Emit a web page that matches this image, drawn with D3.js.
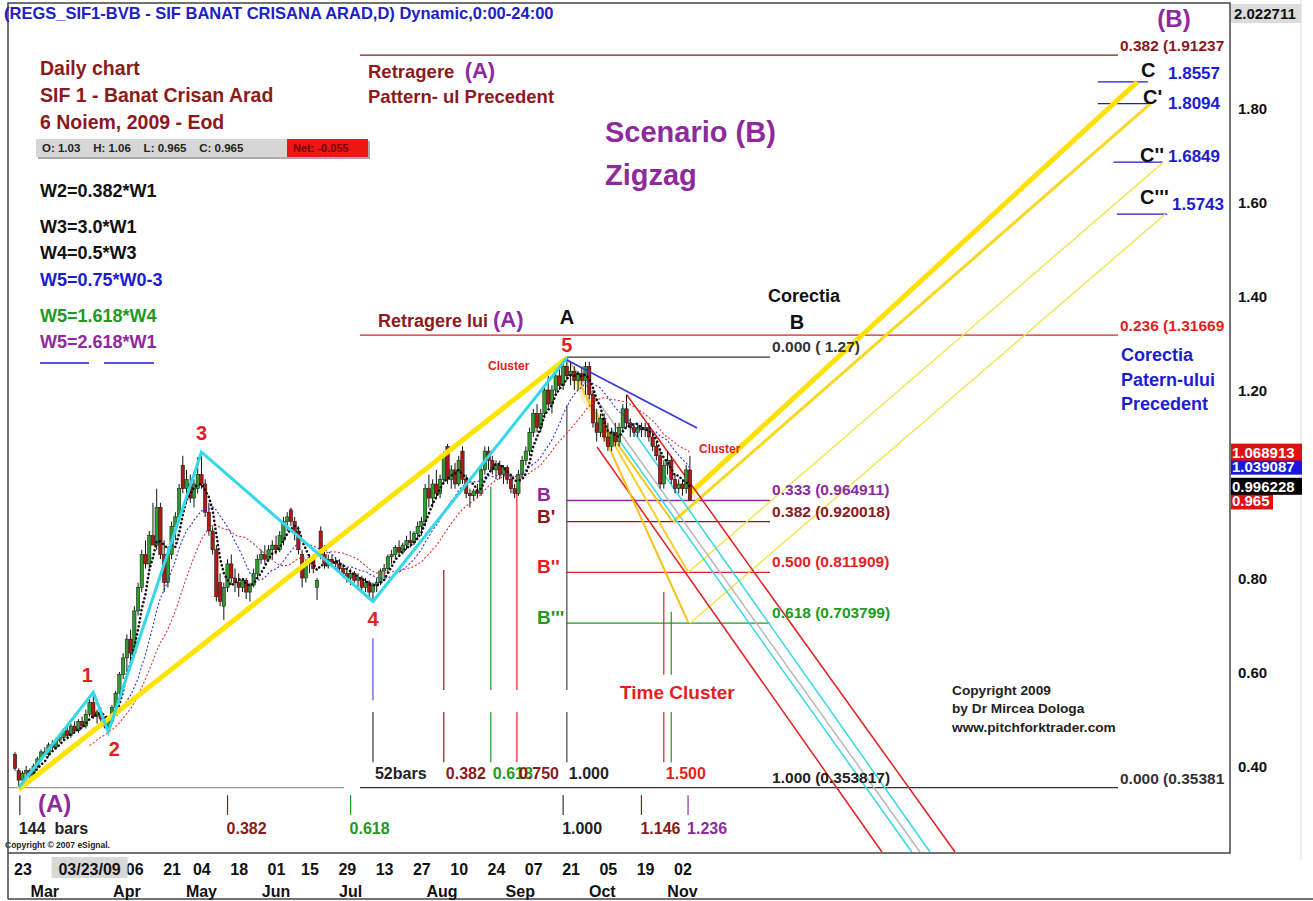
<!DOCTYPE html>
<html><head><meta charset="utf-8">
<script src="https://cdn.jsdelivr.net/npm/d3@7"></script>
<style>
body{margin:0;background:#fff}
svg{display:block}
text{font-family:"Liberation Sans",Arial,Helvetica,sans-serif;font-weight:bold;white-space:pre}
</style>
</head><body>
<svg id="c" width="1313" height="901"></svg>
<script>
// ---------------- DATA ----------------
const barStartDate = "2009-02-23";
const holidays = ["2009-04-20","2009-05-01","2009-06-08"];
const opens = [.425,.39,.37,.385,.39,.38,.40,.415,.43,.425,
.445,.44,.455,.46,.475,.465,.485,.475,.495,.485,
.51,.535,.505,.515,.50,.485,.495,.525,.555,.595,
.63,.67,.64,.73,.78,.85,.83,.89,.87,.95,
.85,.79,.85,.91,.93,1.04,.99,1.00,.97,.99,
1.02,1.00,.94,.90,.86,.79,.74,.78,.83,.80,
.79,.78,.795,.77,.785,.81,.84,.85,.84,.86,
.87,.86,.88,.92,.945,.92,.90,.85,.80,.83,
.84,.78,.90,.85,.83,.84,.835,.83,.82,.81,
.80,.81,.795,.80,.78,.79,.77,.785,.79,.815,
.82,.845,.85,.865,.855,.87,.88,.875,.895,.91,
.92,.99,.97,1.00,.98,1.01,1.08,1.01,1.03,1.00,
1.07,1.01,.98,.975,.985,.98,1.03,1.07,1.05,1.03,
1.04,1.02,1.035,1.01,.99,.98,1.02,1.05,1.07,1.11,
1.15,1.12,1.15,1.20,1.17,1.20,1.23,1.21,1.25,1.23,
1.24,1.22,1.235,1.22,1.25,1.19,1.13,1.11,1.14,1.10,
1.08,1.11,1.09,1.12,1.16,1.13,1.12,1.11,1.12,1.115,
1.12,1.10,1.08,1.06,1.00,1.04,1.05,1.01,.99,1.00,
.99,1.03];
const highs = [.43,.395,.39,.40,.395,.405,.42,.435,.44,.45,
.455,.46,.47,.48,.485,.49,.495,.50,.505,.52,
.545,.557,.52,.525,.505,.50,.53,.56,.60,.64,
.68,.69,.74,.79,.86,.88,.90,.96,.99,.96,
.88,.86,.92,.94,1.00,1.06,1.03,1.02,1.01,1.057,
1.068,1.01,.96,.91,.87,.81,.79,.84,.85,.82,
.81,.80,.80,.79,.82,.85,.86,.87,.87,.88,
.89,.90,.93,.94,.95,.93,.91,.86,.84,.85,
.85,.80,.91,.87,.85,.85,.845,.84,.83,.82,
.82,.815,.81,.805,.80,.795,.79,.80,.82,.83,
.85,.86,.87,.88,.875,.89,.90,.90,.92,.93,
1.00,1.02,1.01,1.03,1.02,1.07,1.085,1.04,1.045,1.06,
1.08,1.02,.99,.99,1.00,1.04,1.08,1.08,1.06,1.05,
1.05,1.04,1.04,1.02,1.00,1.03,1.06,1.08,1.12,1.16,
1.17,1.16,1.21,1.23,1.21,1.24,1.25,1.26,1.268,1.26,
1.25,1.24,1.25,1.26,1.26,1.20,1.16,1.15,1.15,1.13,
1.12,1.13,1.13,1.17,1.19,1.14,1.13,1.13,1.13,1.13,
1.13,1.11,1.09,1.07,1.05,1.07,1.06,1.02,1.01,1.01,
1.04,1.06];
const lows = [.39,.354,.365,.375,.37,.375,.395,.41,.42,.42,
.43,.435,.45,.455,.46,.46,.47,.47,.48,.48,
.505,.50,.49,.495,.48,.472,.49,.52,.55,.585,
.60,.62,.635,.72,.77,.82,.82,.87,.86,.84,
.77,.78,.84,.88,.92,.98,.96,.96,.95,.98,
.99,.93,.89,.85,.75,.74,.711,.77,.79,.77,
.76,.77,.755,.75,.78,.80,.83,.83,.835,.84,
.85,.855,.87,.90,.91,.88,.85,.78,.79,.81,
.81,.753,.84,.82,.82,.825,.82,.81,.80,.79,
.785,.79,.78,.77,.77,.76,.75,.77,.785,.80,
.81,.83,.84,.85,.85,.86,.865,.87,.88,.89,
.91,.95,.95,.97,.97,1.00,1.00,.99,.99,.995,
1.00,.97,.95,.965,.97,.975,1.02,1.03,1.02,1.01,
1.01,1.00,1.00,.98,.97,.975,1.01,1.04,1.06,1.10,
1.11,1.11,1.14,1.16,1.15,1.19,1.20,1.20,1.22,1.21,
1.20,1.20,1.21,1.19,1.18,1.12,1.09,1.10,1.09,1.07,
1.07,1.08,1.08,1.11,1.12,1.10,1.10,1.10,1.10,1.10,
1.09,1.07,1.05,.99,.99,1.02,1.00,.98,.98,.975,
.98,.965];
const closes = [.395,.37,.385,.39,.38,.40,.415,.43,.425,.445,
.44,.455,.46,.475,.465,.485,.475,.495,.485,.51,
.535,.505,.515,.50,.485,.495,.525,.555,.595,.63,
.67,.64,.73,.78,.85,.83,.89,.87,.95,.85,
.79,.85,.91,.93,.99,.99,1.01,.97,1.00,1.02,
1.00,.94,.90,.86,.76,.75,.78,.83,.80,.79,
.78,.795,.77,.785,.81,.84,.85,.84,.86,.87,
.86,.89,.92,.93,.92,.895,.86,.80,.83,.84,
.82,.795,.85,.83,.84,.835,.83,.82,.81,.80,
.81,.795,.80,.78,.79,.77,.785,.79,.815,.82,
.845,.85,.865,.855,.87,.88,.875,.895,.91,.92,
.99,.97,1.00,.98,1.01,1.06,1.01,1.03,1.00,1.05,
1.01,.98,.975,.985,.98,1.03,1.07,1.05,1.03,1.04,
1.02,1.035,1.01,.99,.98,1.02,1.05,1.07,1.11,1.15,
1.12,1.15,1.20,1.17,1.20,1.23,1.21,1.25,1.23,1.24,
1.22,1.235,1.22,1.25,1.19,1.13,1.11,1.14,1.10,1.08,
1.11,1.09,1.12,1.16,1.13,1.12,1.11,1.12,1.115,1.12,
1.10,1.08,1.06,1.00,1.04,1.05,1.01,.99,1.00,.99,
1.03,.965];

const maPeriods = [5, 13, 21];            // black, blue, red moving averages
const dateTicks = ["2009-02-23","2009-04-06","2009-04-21","2009-05-04","2009-05-18","2009-06-01","2009-06-15","2009-06-29","2009-07-13","2009-07-27","2009-08-10","2009-08-24","2009-09-07","2009-09-21","2009-10-05","2009-10-19","2009-11-02"];
const cursorDate = "2009-03-23";
const cursorLabel = "03/23/09";
const monthNames = ["Mar","Apr","May","Jun","Jul","Aug","Sep","Oct","Nov"];
const monthBars = [8,30,50,70,90,114.5,135.5,157.5,179];
const priceTicks = [0.40,0.60,0.80,1.20,1.40,1.60,1.80];   // 1.00 is hidden under the price flags
const axisTop = 2.022711;
const flagValues = [1.039087, 1.068913, 0.965, 0.996228];
const ohlcText = "O: 1.03    H: 1.06    L: 0.965    C: 0.965";
const netText = "Net: -0.055";

// wave pivots (bar index, price)
const waveNames = ["(A)","1","2","3","4","5"];
const waveBars = [1, 21, 25, 50, 96, 148];
const wavePrices = [0.354, 0.557, 0.472, 1.068, 0.75, 1.268];

// retracement levels
const fibALabels = ["0.382 (1.91237","0.236 (1.31669","0.000 (0.35381"];
const fibAPrices = [1.91237, 1.31669, 0.353817];
const fibALine = [92.5, 295.8];
const fibBLabels = ["0.000 ( 1.27)","0.333 (0.964911)","0.382 (0.920018)","0.500 (0.811909)","0.618 (0.703799)","1.000 (0.353817)"];
const fibBPrices = [1.27, 0.964911, 0.920018, 0.811909, 0.703799, 0.353817];
const fibBLine = [148, 202.5];
const bNames = ["B","B'","B''","B'''"];

// C targets
const cNames = ["C","C'","C''","C'''"];
const cValues = ["1.8557","1.8094","1.6849","1.5743"];
const cPrices = [1.8557, 1.8094, 1.6849, 1.5743];
const cLineFrom = [290.4, 290.4, 294.6, 295.5];
const cLineTo = [303.8, 303.8, 307.8, 309.0];

// upward parallel lines B -> C
const upFromBar = [181, 176.5, 180.5, 181];
const upFromPrice = [0.98, 0.920018, 0.811909, 0.703799];
const upToBar = [301, 304.5, 308, 308.5];
const upToPrice = [1.8557, 1.8094, 1.6849, 1.5743];

// downward pitchfork lines (median, lower red, upper red, cyan, cyan)
const forkFromBar = [148, 156.1, 164.1, 160.1, 162.8];
const forkFromPrice = [1.268, 1.0787, 1.1894, 1.1149, 1.1468];
const forkToBar = [242.7, 232.5, 252.1, 240.5, 245.4];
const forkToPrice = [0.217, 0.217, 0.217, 0.217, 0.217];

// yellow fan from top 5 to B levels
const fanFromBar = [150.2, 151.5, 154.2];
const fanFromPrice = [1.238, 1.2106, 1.168];
const fanToBar = [180.5, 180.5, 176.2];
const fanToPrice = [0.7064, 0.8128, 0.9213];

// upper trend line
const trendBars = [148, 182.9];
const trendPrices = [1.2638, 1.119];

// time cycles
const cycle52Bars = [96, 115, 127.6, 134.6, 148, 174, 176];
const cycle52Labels = ["52bars","0.382","0.618","0.750","1.000","1.500",""];
const cycle52Tops = [0.672, 0.817, 0.994, 0.987, 1.168, 0.770, 0.728];
const cycle144Bars = [1.3, 57, 90, 147, 168, 180.5];
const cycle144Labels = ["144  bars","0.382","0.618","1.000","1.146","1.236"];

// ---------------- STYLE ----------------
const COL = {green:"#2f9a2f", red:"#b01818", dred:"#8b1a1a", rd:"#e41e1e", grn:"#1e9a1e",
  pur:"#8e2a9e", blue:"#1c1cd0", cyan:"#35d8e8", yel:"#ffe400", gray:"#b0b0b0"};
const svg = d3.select("#c");
const PL=8, PR=1230, PT=3, PB=853;
const x = d3.scaleLinear().domain([0,177]).range([15,675]);
const y = d3.scaleLinear().domain([0.4,1.8]).range([766,108]);

svg.append("defs").append("clipPath").attr("id","clip")
  .append("rect").attr("x",PL).attr("y",PT).attr("width",PR-PL).attr("height",PB-PT);

const gBack = svg.append("g").attr("clip-path","url(#clip)");
const gMain = svg.append("g").attr("clip-path","url(#clip)");
const gTop = svg.append("g");

const line = d3.line().x(d=>x(d[0])).y(d=>y(d[1]));
function seg(g, pts, color, w, extra){
  const p = g.append("path").attr("d", line(pts)).attr("fill","none")
    .attr("stroke",color).attr("stroke-width",w);
  if(extra) extra(p);
  return p;
}
function txt(g, px, py, s, size, color, anchor){
  return g.append("text").attr("x",px).attr("y",py).attr("font-size",size)
    .attr("fill",color).attr("text-anchor",anchor||"start").attr("xml:space","preserve").text(s);
}

// --------- horizontal levels ---------
const fibAColors=[COL.dred, COL.rd, "#333"];
fibAPrices.forEach((p,k)=>{
  seg(gBack, [[fibALine[0],p],[fibALine[1],p]], fibAColors[k], 1.3);
  txt(gTop, x(fibALine[1])+2, y(p)-4, fibALabels[k], 15.5, fibAColors[k]);
});
seg(gBack, [[-2,fibAPrices[2]],[88.2,fibAPrices[2]]], "#999", 1.3);
const fibBColors=["#333", COL.pur, COL.dred, COL.rd, COL.grn, "#222"];
fibBPrices.forEach((p,k)=>{
  if(k<5) seg(gBack, [[fibBLine[0],p],[fibBLine[1],p]], fibBColors[k], 1.3);
  txt(gTop, x(fibBLine[1])+2, y(p)-5, fibBLabels[k], 15.5, fibBColors[k]);
});
const bColors=[COL.pur, COL.dred, COL.rd, COL.grn];
bNames.forEach((n,k)=>{
  txt(gTop, 537, y(fibBPrices[k+1])+1, n, 19, bColors[k]);
});
cPrices.forEach((p,k)=>{
  seg(gBack, [[cLineFrom[k],p],[cLineTo[k],p]], COL.blue, 1.3);
});

// --------- time cycles ---------
const c52Colors=["#5050e0",COL.dred,COL.grn,COL.rd,"#444",COL.rd,COL.grn];
const c52LowColors=["#333",COL.dred,COL.grn,COL.rd,"#444",COL.rd,COL.grn];
const c52LabColors=["#222",COL.dred,COL.grn,COL.dred,"#222",COL.rd,COL.grn];
const upperBottom = [0.54,0.5617,0.5617,0.5617,0.5617,0.594,0.594];
cycle52Bars.forEach((b,k)=>{
  seg(gBack, [[b,cycle52Tops[k]],[b,upperBottom[k]]], c52Colors[k], 1.2);
  seg(gBack, [[b,0.515],[b,0.408]], c52LowColors[k], 1.2);
  if(cycle52Labels[k]) txt(gTop, x(b)+2, y(0.385)+6, cycle52Labels[k], 16, c52LabColors[k]);
});
const c144Colors=["#333",COL.dred,COL.grn,"#333",COL.dred,COL.pur];
cycle144Bars.forEach((b,k)=>{
  seg(gBack, [[b,0.338],[b,0.296]], c144Colors[k], 1.2);
  txt(gTop, x(b)-1, y(0.268)+6, cycle144Labels[k], 16, c144Colors[k]==="#333"?"#222":c144Colors[k]);
});

// --------- upward yellow lines ---------
const upW=[5,3,1.4,1.4], upC=["#ffe000","#f8d820","#f2e44a","#f2e44a"];
upFromBar.forEach((b,k)=>seg(gBack, [[b,upFromPrice[k]],[upToBar[k],upToPrice[k]]], upC[k], upW[k]));

// --------- downward pitchfork ---------
const forkC=["#b8b8b8", COL.rd, COL.rd, COL.cyan, COL.cyan];
forkFromBar.forEach((b,k)=>seg(gBack, [[b,forkFromPrice[k]],[forkToBar[k],forkToPrice[k]]], forkC[k], 1.5));
const fanC=["#f7c21a","#f7d030","#f5c518"];
fanFromBar.forEach((b,k)=>seg(gBack, [[b,fanFromPrice[k]],[fanToBar[k],fanToPrice[k]]], fanC[k], 2));
seg(gBack, [[waveBars[5],wavePrices[5]-0.01],[160,1.08]], "#f4d64a", 8, p=>p.attr("opacity",0.35));

// --------- candles ---------
const n = closes.length;
const cg = gMain.append("g");
for(let i=0;i<n;i++){
  const o=opens[i], c=closes[i];
  cg.append("line").attr("x1",x(i)).attr("x2",x(i)).attr("y1",y(highs[i])).attr("y2",y(lows[i]))
    .attr("stroke","#111").attr("stroke-width",1);
  const top=y(Math.max(o,c)), bot=y(Math.min(o,c));
  cg.append("rect").attr("x",x(i)-1.7).attr("width",3.4).attr("y",top).attr("height",Math.max(1,bot-top))
    .attr("fill", c>=o?COL.green:COL.red).attr("stroke","#111").attr("stroke-width",0.5);
}

// --------- moving averages ---------
function sma(p){ const out=[]; for(let i=p-1;i<n;i++){ out.push([i, d3.mean(closes.slice(i-p+1,i+1))]); } return out; }
seg(gMain, sma(maPeriods[2]), "#e03030", 1.1, p=>p.attr("stroke-dasharray","2,2"));
seg(gMain, sma(maPeriods[1]), "#3030e0", 1.1, p=>p.attr("stroke-dasharray","2,2"));
seg(gMain, sma(maPeriods[0]), "#111", 2.6, p=>p.attr("stroke-dasharray","0.1,4").attr("stroke-linecap","round"));

// --------- main trend lines ---------
seg(gMain, [[waveBars[0],wavePrices[0]-0.004],[waveBars[5],wavePrices[5]]], COL.yel, 5);
seg(gMain, waveBars.map((b,k)=>[b,wavePrices[k]]), COL.cyan, 3);
seg(gMain, [[trendBars[0],trendPrices[0]],[trendBars[1],trendPrices[1]]], "#3a3ad8", 1.8);

const waveOff=[0,-10,24,-12,24,-6];
waveNames.forEach((nm,k)=>{
  if(k===0) return;
  const dx = k===1?-6:k===2?6:0;
  txt(gTop, x(waveBars[k])+dx, y(wavePrices[k])+waveOff[k], nm, 20, COL.rd, "middle");
});
txt(gTop, 38, 812, "(A)", 24, COL.pur);

// --------- frame ---------
svg.append("rect").attr("x",PL).attr("y",PT).attr("width",PR-PL).attr("height",PB-PT)
  .attr("fill","none").attr("stroke","#444").attr("stroke-width",1.5);
svg.append("line").attr("x1",PL).attr("x2",PL).attr("y1",PB).attr("y2",899).attr("stroke","#444").attr("stroke-width",1.5);
svg.append("line").attr("x1",PL).attr("x2",1313).attr("y1",899).attr("y2",899).attr("stroke","#444").attr("stroke-width",1.5);
svg.append("line").attr("x1",1301).attr("x2",1301).attr("y1",0).attr("y2",860).attr("stroke","#ddd").attr("stroke-width",1);

// --------- price axis ---------
priceTicks.forEach(p=>txt(svg, 1238, y(p)+6, p.toFixed(2), 15, "#111"));
svg.append("rect").attr("x",1231).attr("y",4).attr("width",70).attr("height",19).attr("fill","#dcdcdc");
txt(svg, 1234, 19, axisTop.toFixed(6), 15, "#111");
const flagFill=["#1818e0","#e01010","#e01010","#000"], flagW=[71,71,42,71];
flagValues.forEach((v,k)=>{
  svg.append("rect").attr("x",1231).attr("y",y(v)-8).attr("width",flagW[k]).attr("height",17).attr("fill",flagFill[k]);
  txt(svg, 1232, y(v)+6, k===2? v.toFixed(3): v.toFixed(6), 15, "#fff");
});

// --------- date axis ---------
const cal=[]; { let d=new Date(barStartDate+"T00:00:00Z");
  while(cal.length<n){ const s=d.toISOString().slice(0,10), w=d.getUTCDay();
    if(w!==0&&w!==6&&!holidays.includes(s)) cal.push(s); d=new Date(d.getTime()+864e5);} }
dateTicks.forEach(ds=>{ const i=cal.indexOf(ds); txt(svg, x(i)-1, 875, ds.slice(8), 16, "#111"); });
{ const i=cal.indexOf(cursorDate);
  svg.append("rect").attr("x",x(i)-38).attr("y",857).attr("width",76).attr("height",21).attr("fill","#d8d8d8");
  txt(svg, x(i), 875, cursorLabel, 16, "#111", "middle"); }
monthNames.forEach((m,k)=>txt(svg, x(monthBars[k]), 897, m, 16, "#111", "middle"));

// --------- annotations ---------
txt(svg, 4, 19, "(REGS_SIF1-BVB - SIF BANAT CRISANA ARAD,D) Dynamic,0:00-24:00", 16.5, "#2020c8");
txt(gTop, 40, 75, "Daily chart", 19.5, COL.dred);
txt(gTop, 40, 102, "SIF 1 - Banat Crisan Arad", 19.5, COL.dred);
txt(gTop, 40, 129, "6 Noiem, 2009 - Eod", 19.5, COL.dred);
gTop.append("rect").attr("x",38).attr("y",141).attr("width",332).attr("height",18).attr("fill","#aaa");
gTop.append("rect").attr("x",36).attr("y",139).attr("width",332).attr("height",18).attr("fill","#d6d6d6");
gTop.append("rect").attr("x",287).attr("y",139).attr("width",81).attr("height",18).attr("fill","#ee1515");
txt(gTop, 42, 152, ohlcText, 11.5, "#222");
txt(gTop, 293, 152, netText, 11, "#700");
const wl=[["W2=0.382*W1","#111",197],["W3=3.0*W1","#111",233],["W4=0.5*W3","#111",259],["W5=0.75*W0-3",COL.blue,286],["W5=1.618*W4",COL.grn,322],["W5=2.618*W1",COL.pur,348]];
wl.forEach(w=>txt(gTop, 40, w[2], w[0], 18, w[1]));
gTop.append("line").attr("x1",40).attr("x2",89).attr("y1",363).attr("y2",363).attr("stroke",COL.blue).attr("stroke-width",1.5);
gTop.append("line").attr("x1",104).attr("x2",154).attr("y1",363).attr("y2",363).attr("stroke",COL.blue).attr("stroke-width",1.5);

let t=txt(gTop, 368, 78, "Retragere  ", 18.5, COL.dred); t.append("tspan").attr("fill",COL.pur).attr("font-size",22).text("(A)");
txt(gTop, 368, 103, "Pattern- ul Precedent", 18.5, COL.dred);
t=txt(gTop, 378, 327, "Retragere lui ", 18, COL.dred); t.append("tspan").attr("fill",COL.pur).attr("font-size",22).text("(A)");
txt(gTop, 605, 142, "Scenario (B)", 29, COL.pur);
txt(gTop, 605, 185, "Zigzag", 29, COL.pur);
txt(gTop, 567, 324, "A", 20, "#111", "middle");
txt(gTop, 768, 302, "Corectia", 18, "#111");
txt(gTop, 797, 329, "B", 20, "#111", "middle");
txt(gTop, 1174, 27, "(B)", 24, COL.pur, "middle");
const cNameX=[1141,1143,1140,1140], cNameY=[77,104,162,204], cValX=[1168,1168,1168,1172], cValY=[79,109,162,210];
cNames.forEach((nm,k)=>{ txt(gTop, cNameX[k], cNameY[k], nm, 20, "#111"); txt(gTop, cValX[k], cValY[k], cValues[k], 17, COL.blue); });
txt(gTop, 1121, 361, "Corectia", 18, COL.blue);
txt(gTop, 1121, 386, "Patern-ului", 18, COL.blue);
txt(gTop, 1121, 410, "Precedent", 18, COL.blue);
txt(gTop, 488, 370, "Cluster", 12, COL.rd);
txt(gTop, 699, 453, "Cluster", 12, COL.rd);
txt(gTop, 620, 699, "Time Cluster", 19, COL.rd);
txt(gTop, 952, 695, "Copyright 2009", 13.7, "#222");
txt(gTop, 952, 713, "by Dr Mircea Dologa", 13.7, "#222");
txt(gTop, 952, 732, "www.pitchforktrader.com", 13.7, "#222");
txt(gTop, 5, 848, "Copyright \u00a9 2007 eSignal.", 8.5, "#222").attr("font-weight","normal");
</script>
</body></html>
